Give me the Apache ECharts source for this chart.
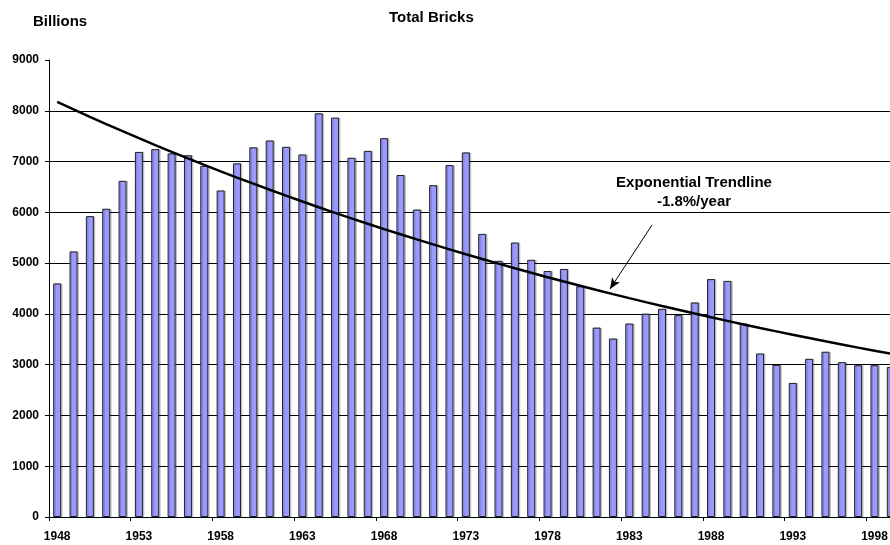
<!DOCTYPE html>
<html>
<head>
<meta charset="utf-8">
<script src="https://cdn.jsdelivr.net/npm/echarts@6/dist/echarts.min.js"></script>
<style>
    html, body { margin: 0; padding: 0; background: #fff; }
    #brickchart { width: 890px; height: 545px; }
</style>
</head>
<body>
<div id="brickchart"></div>
<script>
var years = ['1948', '1949', '1950', '1951', '1952', '1953', '1954', '1955', '1956', '1957',
    '1958', '1959', '1960', '1961', '1962', '1963', '1964', '1965', '1966', '1967',
    '1968', '1969', '1970', '1971', '1972', '1973', '1974', '1975', '1976', '1977',
    '1978', '1979', '1980', '1981', '1982', '1983', '1984', '1985', '1986', '1987',
    '1988', '1989', '1990', '1991', '1992', '1993', '1994', '1995', '1996', '1997',
    '1998', '1999'];

var bricks = [4600, 5230, 5925, 6070, 6620, 7190, 7245, 7160, 7125, 6915,
    6430, 6965, 7280, 7415, 7290, 7140, 7950, 7865, 7075, 7210,
    7460, 6735, 6055, 6535, 6930, 7180, 5575, 5045, 5405, 5065,
    4845, 4885, 4545, 3730, 3515, 3810, 4005, 4100, 3975, 4225,
    4685, 4650, 3810, 3220, 2995, 2640, 3115, 3255, 3050, 2990,
    2990, 2955];

var yTicks = [0, 1000, 2000, 3000, 4000, 5000, 6000, 7000, 8000, 9000];

var FONT = 'Liberation Sans';

$ready();

function $ready() {
    var chart = echarts.init(document.getElementById('brickchart'));
    createBrickChart(chart, bricks, expTrend(bricks));
}

// exponential least squares fit, same as the spreadsheet trendline
function expTrend(values) {
    var n = values.length, sx = 0, sy = 0, sxx = 0, sxy = 0;
    for (var i = 0; i < n; i++) {
        var ly = Math.log(values[i]);
        sx += i; sy += ly; sxx += i * i; sxy += i * ly;
    }
    var b = (n * sxy - sx * sy) / (n * sxx - sx * sx);
    var a = (sy - b * sx) / n;
    var out = [];
    for (var j = 0; j < n; j++) {
        out.push(Math.round(Math.exp(a + b * j)));
    }
    return out;
}

function createBrickChart(chart, data, trend) {
    var option = {
        animation: false,
        title: [{
            text: 'Total Bricks',
            left: 389,
            top: 10,
            padding: 0,
            textStyle: { fontFamily: FONT, fontSize: 15, fontWeight: 'bold', color: '#000' }
        }, {
            text: 'Billions',
            left: 33,
            top: 14,
            padding: 0,
            textStyle: { fontFamily: FONT, fontSize: 15, fontWeight: 'bold', color: '#000' }
        }],
        grid: {
            left: 49,
            top: 60,
            width: 850,
            bottom: 28,
            containLabel: false,
            outerBoundsMode: 'none'
        },
        xAxis: {
            type: 'category',
            data: years,
            boundaryGap: true,
            axisLine: { lineStyle: { color: '#000', width: 1 } },
            axisTick: { show: true, interval: 4, length: 4, lineStyle: { color: '#000' } },
            axisLabel: {
                interval: 4,
                margin: 14,
                color: '#000',
                fontFamily: FONT,
                fontSize: 12,
                fontWeight: 'bold'
            },
            splitLine: { show: false }
        },
        yAxis: {
            type: 'value',
            min: yTicks[0],
            max: yTicks[yTicks.length - 1],
            interval: 1000,
            axisLine: { show: true, lineStyle: { color: '#000', width: 1 } },
            axisTick: { show: true, length: 4, lineStyle: { color: '#000' } },
            axisLabel: {
                margin: 10,
                color: '#000',
                fontFamily: FONT,
                fontSize: 12,
                fontWeight: 'bold',
                formatter: function (v) { return String(v); }
            },
            splitLine: { show: true, showMaxLine: false, lineStyle: { color: '#000', width: 1 } }
        },
        graphic: [{
            type: 'text',
            z: 100,
            style: {
                text: 'Exponential Trendline\n-1.8%/year',
                x: 694,
                y: 173,
                textAlign: 'center',
                font: 'bold 15px ' + FONT,
                lineHeight: 19,
                fill: '#000'
            }
        }],
        series: [{
            name: 'Total Bricks',
            type: 'bar',
            data: data,
            barWidth: 8,
            itemStyle: {
                color: '#9999ff',
                borderColor: '#222',
                borderWidth: 1,
                shadowColor: 'rgba(0,0,0,0.18)',
                shadowOffsetX: 1.5,
                shadowOffsetY: 0,
                shadowBlur: 0
            },
            z: 2
        }, {
            name: 'Exponential Trendline',
            type: 'line',
            data: trend,
            symbol: 'none',
            lineStyle: { color: '#000', width: 2.5 },
            z: 5,
            markLine: {
                silent: true,
                symbol: ['none', 'arrow'],
                symbolSize: [7, 11],
                label: { show: false },
                lineStyle: { color: '#000', width: 1, type: 'solid' },
                data: [[{ x: 652, y: 225 }, { x: 610, y: 289 }]]
            }
        }]
    };
    chart.setOption(option);
}
</script>
</body>
</html>
